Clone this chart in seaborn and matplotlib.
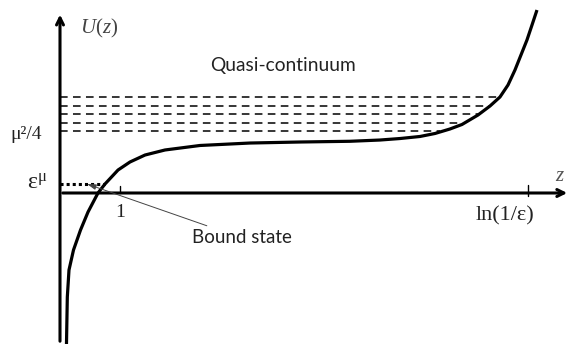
import numpy as np
import pandas as pd
import seaborn as sns
import matplotlib.pyplot as plt

# potential curve U(z)
curve_z = [0.108, 0.122, 0.15, 0.225, 0.342, 0.467, 0.633, 0.75, 0.967, 1.167, 1.417, 1.75,
           2.333, 3.167, 4.0, 4.833, 5.333, 5.667, 6.0, 6.25, 6.5, 6.7, 6.967, 7.167,
           7.333, 7.467, 7.583, 7.683, 7.783, 7.867, 7.95]
curve_U = [-2.517, -1.733, -1.283, -0.95, -0.617, -0.317, 0.0, 0.15, 0.383, 0.517, 0.633, 0.717,
           0.792, 0.833, 0.85, 0.862, 0.883, 0.908, 0.942, 0.992, 1.067, 1.142, 1.30, 1.45,
           1.60, 1.80, 2.05, 2.30, 2.55, 2.80, 3.05]

# quasi-continuum levels (height, right end where they meet the curve)
level_U = [1.60, 1.45, 1.317, 1.167, 1.033]
level_end = [7.333, 7.167, 6.967, 6.70, 6.333]

bound_U = 0.15
bound_end = 0.75
tick_one = 1.0
tick_ln = 7.8

sns.set_style("white")
plt.rcParams["mathtext.fontset"] = "custom"
plt.rcParams["mathtext.rm"] = "Liberation Serif"
plt.rcParams["mathtext.it"] = "Liberation Serif:italic"

fig = plt.figure(figsize=(5.71, 3.44), dpi=100)
ax = fig.add_axes([0, 0, 1, 1])
ax.set_xlim(-1.0, 8.517)
ax.set_ylim(-2.517, 3.217)
ax.axis("off")

df = pd.DataFrame({"z": curve_z, "U": curve_U})
sns.lineplot(data=df, x="z", y="U", sort=False, color="black", lw=2.3, ax=ax,
             solid_joinstyle="round", solid_capstyle="butt")

# axes with arrows
ax.annotate("", xy=(0, 3.02), xytext=(0, -2.517),
            arrowprops=dict(arrowstyle="->,head_length=0.5,head_width=0.25", lw=2.2, color="black"))
ax.annotate("", xy=(8.5, 0), xytext=(0, 0),
            arrowprops=dict(arrowstyle="->,head_length=0.5,head_width=0.25", lw=2.2, color="black"))

# ticks
ax.plot([tick_one, tick_one], [0, 0.11], color="black", lw=1)
ax.plot([tick_ln, tick_ln], [-0.05, 0.13], color="black", lw=1)

# dashed levels
for u, e in zip(level_U, level_end):
    ax.plot([0, e], [u, u], color="black", lw=1.1, ls=(0, (5, 3.5)))

# bound state
ax.plot([0, bound_end], [bound_U, bound_U], color="black", lw=2.2, ls=(0, (1, 1)))
ax.annotate("Bound state", xy=(0.45, bound_U), xytext=(2.2, -0.75),
            fontsize=13.5, family="Lato", color="#222222", va="center", ha="left",
            arrowprops=dict(arrowstyle="-|>,head_length=0.4,head_width=0.12", lw=0.7,
                            color="#444444", shrinkA=1, shrinkB=0))

serif = "Liberation Serif"
ax.text(0.33, 2.75, "$U(z)$", fontsize=15, color="#444444", va="center", ha="left")
ax.text(8.25, 0.3, "$z$", fontsize=15, color="#555555", va="center", ha="left")
ax.text(-0.83, 0.97, "μ²/4", family=serif, fontsize=14, va="center", ha="left", color="#222222")
ax.text(-0.55, 0.19, r"$\mathrm{ε^{μ}}$", fontsize=17, va="center", ha="left", color="#222222")
ax.text(1.0, -0.33, "1", family=serif, fontsize=14, va="center", ha="center", color="#222222")
ax.text(6.92, -0.38, "ln(1/ε)", family=serif, fontsize=16, va="center", ha="left", color="#222222")
ax.text(2.5, 2.13, "Quasi-continuum", family="Lato", fontsize=13.8, va="center", ha="left",
        color="#222222")

fig.savefig("out.png", dpi=100)
